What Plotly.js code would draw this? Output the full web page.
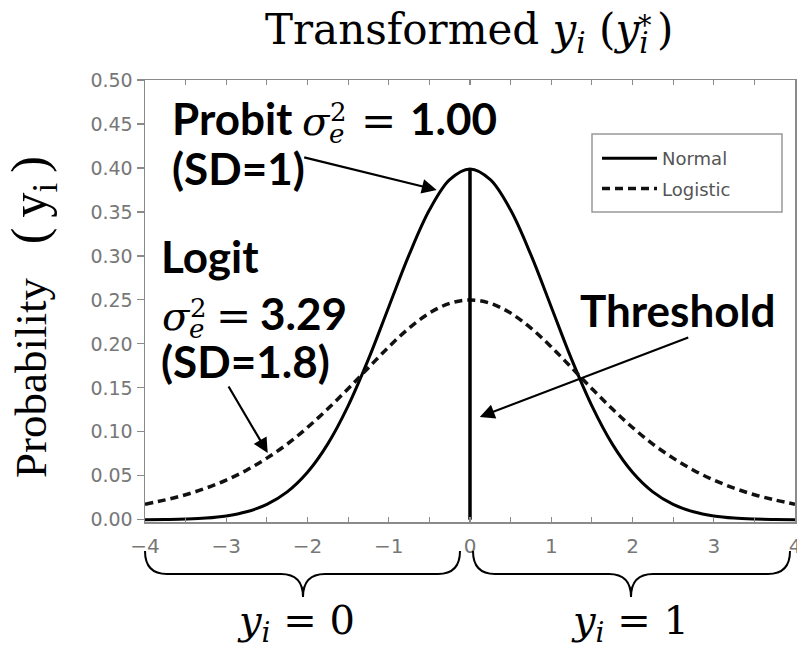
<!DOCTYPE html>
<html>
<head>
<meta charset="utf-8">
<script src="https://cdn.plot.ly/plotly-3.0.1.min.js"></script>
<style>html,body{margin:0;padding:0;background:#fff;}#chart{width:797px;height:649px;}</style>
</head>
<body>
<div id="chart"></div>
<script>
// ---- data ----
const xValues = [-4,-3.75,-3.5,-3.25,-3,-2.75,-2.5,-2.25,-2,-1.75,-1.5,-1.25,-1,-0.75,-0.5,-0.25,0,
                 0.25,0.5,0.75,1,1.25,1.5,1.75,2,2.25,2.5,2.75,3,3.25,3.5,3.75,4];
const normalValues = [0.0001,0.0004,0.0009,0.0020,0.0044,0.0091,0.0175,0.0317,0.0540,0.0863,0.1295,0.1826,0.2420,0.3011,0.3521,0.3867,0.3989,
                      0.3867,0.3521,0.3011,0.2420,0.1826,0.1295,0.0863,0.0540,0.0317,0.0175,0.0091,0.0044,0.0020,0.0009,0.0004,0.0001];
const logisticValues = [0.0177,0.0226,0.0285,0.0360,0.0452,0.0564,0.0701,0.0861,0.1050,0.1262,0.1491,0.1729,0.1966,0.2179,0.2350,0.2461,0.2500,
                        0.2461,0.2350,0.2179,0.1966,0.1729,0.1491,0.1262,0.1050,0.0861,0.0701,0.0564,0.0452,0.0360,0.0285,0.0226,0.0177];
const thresholdX = [0, 0];
const thresholdY = [0, 0.3989];
const seriesNames = ['Normal', 'Logistic'];
const xTickValues = [-4,-3,-2,-1,0,1,2,3,4];
const yTickValues = [0,0.05,0.10,0.15,0.20,0.25,0.30,0.35,0.40,0.45,0.50];

// ---- layout helpers (pixel -> paper) ----
const L = 145, R = 2, T = 80, B = 127, W = 797, H = 649;
const PW = W - L - R, PH = H - T - B;
const PX = p => (p - L) / PW;
const PY = p => (H - B - p) / PH;

const SANS = 'Lato, "Open Sans", sans-serif';
const MATH = '"DejaVu Serif", serif';
const GRAY = '#8a8a8a';

function txt(px, py, text, size, family, extra) {
  return Object.assign({
    xref: 'paper', yref: 'paper', x: PX(px), y: PY(py),
    xanchor: 'left', yanchor: 'middle', showarrow: false,
    text: text, font: {family: family, size: size, color: '#000'}
  }, extra || {});
}
function bold(px, py, text) {
  return txt(px, py, text, 44, SANS, {font: {family: SANS, size: 44, color: '#000', weight: 700}});
}
function arrow(hx, hy, ax, ay) {
  return {xref: 'x', yref: 'y', x: hx, y: hy, ax: ax, ay: ay, text: '', showarrow: true,
          arrowhead: 2, arrowsize: 1.35, arrowwidth: 2.2, arrowcolor: '#000', standoff: 0};
}
function brace(x0, x1, xc, yTop, yMid, yTip, r) {
  const pts = [
    ['M', x0, yTop],
    ['Q', x0, yMid, x0 + r, yMid],
    ['L', xc - r, yMid],
    ['Q', xc, yMid, xc, yTip],
    ['Q', xc, yMid, xc + r, yMid],
    ['L', x1 - r, yMid],
    ['Q', x1, yMid, x1, yTop]
  ];
  let d = '';
  pts.forEach(p => {
    d += p[0];
    for (let i = 1; i < p.length; i += 2) d += PX(p[i]).toFixed(4) + ',' + PY(p[i + 1]).toFixed(4) + ' ';
  });
  return {type: 'path', xref: 'paper', yref: 'paper', path: d.trim(), line: {color: '#000', width: 2}};
}

const traces = [
  {x: xValues, y: normalValues, name: seriesNames[0], type: 'scatter', mode: 'lines',
   line: {color: '#000', width: 3, shape: 'spline'}, legendgroup: 'a'},
  {x: xValues, y: logisticValues, name: seriesNames[1], type: 'scatter', mode: 'lines',
   line: {color: '#111', width: 3.5, dash: '8px,5px', shape: 'spline'}, legendgroup: 'b'},
  {x: thresholdX, y: thresholdY, type: 'scatter', mode: 'lines', showlegend: false,
   line: {color: '#000', width: 3.5}, hoverinfo: 'skip'}
];

const annotations = [
  // Probit
  bold(170, 118, 'Probit'),
  txt(300, 121, '<i>σ</i>', 40, MATH),
  txt(328, 112, '2', 26, MATH),
  txt(327, 134, '<i>e</i>', 26, MATH),
  txt(359, 121, '=', 42, MATH),
  bold(408, 118, '1.00'),
  bold(170, 168, '(SD=1)'),
  // Logit
  bold(159, 256, 'Logit'),
  txt(160, 316, '<i>σ</i>', 40, MATH),
  txt(188, 308, '2', 26, MATH),
  txt(187, 329, '<i>e</i>', 26, MATH),
  txt(214, 316, '=', 42, MATH),
  bold(258, 313, '3.29'),
  bold(159, 361, '(SD=1.8)'),
  // Threshold
  bold(578, 310, 'Threshold'),
  // arrows
  arrow(-0.41, 0.375, -134, -33),
  arrow(-2.49, 0.076, -40, -68),
  arrow(0.12, 0.117, 210, -80),
  // star of the title (stacked above the subscript)
  {xref: 'paper', yref: 'paper', x: PX(645), y: PY(26), xanchor: 'center', yanchor: 'middle',
   showarrow: false, text: '*', font: {family: MATH, size: 27, color: '#000'}},
  // y-axis label
  {xref: 'paper', yref: 'paper', x: PX(33), y: PY(317), xanchor: 'center', yanchor: 'middle',
   textangle: -90, showarrow: false,
   text: 'Probability\u00a0\u00a0\u00a0<span style="font-size:50px">(\u2009y<sub>i</sub>\u2009)</span>',
   font: {family: '"Liberation Serif", serif', size: 45, color: '#000'}},
  // bottom labels
  txt(296, 623, '<i>y<sub>i</sub></i>\u00a0=\u00a00', 40, MATH, {xanchor: 'center'}),
  txt(630, 623, '<i>y<sub>i</sub></i>\u00a0=\u00a01', 40, MATH, {xanchor: 'center'})
];

const shapes = [
  {type: 'rect', xref: 'paper', yref: 'paper', x0: PX(592), x1: PX(782), y0: PY(212), y1: PY(134),
   line: {color: '#999', width: 1.5}, fillcolor: 'rgba(0,0,0,0)'},
  brace(145, 460, 303, 551, 574, 597, 22),
  brace(473, 790, 631, 551, 574, 597, 22)
];

const layout = {
  width: W, height: H,
  margin: {l: L, r: R, t: T, b: B, pad: 0},
  paper_bgcolor: '#fff', plot_bgcolor: '#fff',
  showlegend: true,
  title: {
    text: 'Transformed <i>y<sub>i</sub></i>\u00a0(<i>y<sub>i</sub></i>\u2009)',
    font: {family: MATH, size: 42, color: '#000'},
    x: 265 / W, xanchor: 'left', xref: 'container',
    y: 1 - 29 / H, yanchor: 'middle', yref: 'container'
  },
  xaxis: {
    range: [-4, 4], tickvals: xTickValues, ticks: 'inside', ticklen: 5, tickwidth: 1.2, tickcolor: GRAY,
    minor: {dtick: 0.5, ticks: 'inside', ticklen: 5, tickcolor: GRAY, tickwidth: 1.2},
    showline: true, linecolor: GRAY, linewidth: 1.5, mirror: 'ticks',
    showgrid: false, zeroline: false, ticklabelstandoff: 5, ticklabeloverflow: 'allow',
    tickfont: {family: '"DejaVu Sans", sans-serif', size: 20, color: '#777'}
  },
  yaxis: {
    range: [-0.0025, 0.5], tickvals: yTickValues, tickformat: '.2f',
    ticks: 'outside', ticklen: 7, tickwidth: 1.2, tickcolor: GRAY,
    showline: true, linecolor: GRAY, linewidth: 1.5, mirror: 'ticks',
    showgrid: false, zeroline: false,
    tickfont: {family: '"DejaVu Sans", sans-serif', size: 19, color: '#777'}
  },
  legend: {
    x: PX(597), y: PY(140), xanchor: 'left', yanchor: 'top', itemwidth: 55,
    bgcolor: 'rgba(0,0,0,0)', borderwidth: 0, tracegroupgap: 4,
    font: {family: '"DejaVu Sans", sans-serif', size: 18, color: '#555'}
  },
  annotations: annotations,
  shapes: shapes
};

Plotly.newPlot('chart', traces, layout, {displayModeBar: false, staticPlot: true});
</script>
</body>
</html>
